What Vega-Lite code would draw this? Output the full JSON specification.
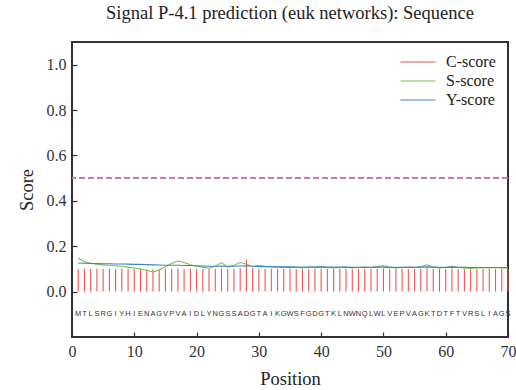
{
  "$schema": "https://vega.github.io/schema/vega-lite/v6.json",
  "width": 436,
  "height": 295,
  "autosize": "none",
  "padding": {"left": 72, "top": 42, "right": 8, "bottom": 53},
  "background": "white",
  "title": {"text": "Signal P-4.1 prediction (euk networks): Sequence", "font": "Liberation Serif", "fontSize": 18.5, "fontWeight": "normal", "color": "#222", "offset": 19},
  "config": {
    "view": {"stroke": null},
    "axis": {"grid": false, "domain": false, "ticks": true, "tickSize": 5, "tickColor": "#333", "tickWidth": 1.2, "offset": -5, "zindex": 1, "labelFont": "Liberation Serif", "labelFontSize": 16, "labelColor": "#333", "titleFont": "Liberation Serif", "titleFontSize": 18.5, "titleFontWeight": "normal", "titleColor": "#222"}
  },
  "data": {"values": [
    {"pos":1,"aa":"M","C-score":0.100,"S-score":0.148,"Y-score":0.126},
    {"pos":2,"aa":"T","C-score":0.101,"S-score":0.132,"Y-score":0.125},
    {"pos":3,"aa":"L","C-score":0.100,"S-score":0.125,"Y-score":0.124},
    {"pos":4,"aa":"S","C-score":0.102,"S-score":0.120,"Y-score":0.124},
    {"pos":5,"aa":"R","C-score":0.100,"S-score":0.118,"Y-score":0.123},
    {"pos":6,"aa":"G","C-score":0.101,"S-score":0.116,"Y-score":0.123},
    {"pos":7,"aa":"I","C-score":0.100,"S-score":0.114,"Y-score":0.122},
    {"pos":8,"aa":"Y","C-score":0.102,"S-score":0.112,"Y-score":0.122},
    {"pos":9,"aa":"H","C-score":0.100,"S-score":0.108,"Y-score":0.121},
    {"pos":10,"aa":"I","C-score":0.101,"S-score":0.104,"Y-score":0.120},
    {"pos":11,"aa":"E","C-score":0.100,"S-score":0.100,"Y-score":0.120},
    {"pos":12,"aa":"N","C-score":0.098,"S-score":0.094,"Y-score":0.119},
    {"pos":13,"aa":"A","C-score":0.099,"S-score":0.086,"Y-score":0.118},
    {"pos":14,"aa":"G","C-score":0.100,"S-score":0.095,"Y-score":0.117},
    {"pos":15,"aa":"V","C-score":0.101,"S-score":0.110,"Y-score":0.116},
    {"pos":16,"aa":"P","C-score":0.100,"S-score":0.124,"Y-score":0.116},
    {"pos":17,"aa":"V","C-score":0.102,"S-score":0.135,"Y-score":0.116},
    {"pos":18,"aa":"A","C-score":0.100,"S-score":0.128,"Y-score":0.115},
    {"pos":19,"aa":"I","C-score":0.101,"S-score":0.118,"Y-score":0.115},
    {"pos":20,"aa":"D","C-score":0.100,"S-score":0.112,"Y-score":0.114},
    {"pos":21,"aa":"L","C-score":0.100,"S-score":0.108,"Y-score":0.113},
    {"pos":22,"aa":"Y","C-score":0.101,"S-score":0.103,"Y-score":0.112},
    {"pos":23,"aa":"N","C-score":0.100,"S-score":0.112,"Y-score":0.112},
    {"pos":24,"aa":"G","C-score":0.102,"S-score":0.128,"Y-score":0.113},
    {"pos":25,"aa":"S","C-score":0.100,"S-score":0.108,"Y-score":0.112},
    {"pos":26,"aa":"S","C-score":0.101,"S-score":0.116,"Y-score":0.112},
    {"pos":27,"aa":"A","C-score":0.103,"S-score":0.128,"Y-score":0.113},
    {"pos":28,"aa":"D","C-score":0.142,"S-score":0.122,"Y-score":0.114},
    {"pos":29,"aa":"G","C-score":0.104,"S-score":0.110,"Y-score":0.112},
    {"pos":30,"aa":"T","C-score":0.101,"S-score":0.115,"Y-score":0.111},
    {"pos":31,"aa":"A","C-score":0.100,"S-score":0.112,"Y-score":0.110},
    {"pos":32,"aa":"I","C-score":0.101,"S-score":0.110,"Y-score":0.110},
    {"pos":33,"aa":"K","C-score":0.100,"S-score":0.108,"Y-score":0.109},
    {"pos":34,"aa":"G","C-score":0.100,"S-score":0.106,"Y-score":0.109},
    {"pos":35,"aa":"W","C-score":0.101,"S-score":0.108,"Y-score":0.109},
    {"pos":36,"aa":"S","C-score":0.100,"S-score":0.106,"Y-score":0.108},
    {"pos":37,"aa":"F","C-score":0.099,"S-score":0.104,"Y-score":0.108},
    {"pos":38,"aa":"G","C-score":0.100,"S-score":0.106,"Y-score":0.108},
    {"pos":39,"aa":"D","C-score":0.101,"S-score":0.108,"Y-score":0.108},
    {"pos":40,"aa":"G","C-score":0.102,"S-score":0.110,"Y-score":0.109},
    {"pos":41,"aa":"T","C-score":0.100,"S-score":0.106,"Y-score":0.108},
    {"pos":42,"aa":"K","C-score":0.100,"S-score":0.104,"Y-score":0.108},
    {"pos":43,"aa":"L","C-score":0.101,"S-score":0.106,"Y-score":0.108},
    {"pos":44,"aa":"N","C-score":0.100,"S-score":0.108,"Y-score":0.108},
    {"pos":45,"aa":"W","C-score":0.099,"S-score":0.104,"Y-score":0.107},
    {"pos":46,"aa":"N","C-score":0.100,"S-score":0.106,"Y-score":0.107},
    {"pos":47,"aa":"Q","C-score":0.101,"S-score":0.108,"Y-score":0.107},
    {"pos":48,"aa":"L","C-score":0.100,"S-score":0.106,"Y-score":0.107},
    {"pos":49,"aa":"W","C-score":0.101,"S-score":0.110,"Y-score":0.108},
    {"pos":50,"aa":"L","C-score":0.102,"S-score":0.114,"Y-score":0.108},
    {"pos":51,"aa":"V","C-score":0.100,"S-score":0.108,"Y-score":0.107},
    {"pos":52,"aa":"E","C-score":0.100,"S-score":0.104,"Y-score":0.107},
    {"pos":53,"aa":"P","C-score":0.101,"S-score":0.106,"Y-score":0.107},
    {"pos":54,"aa":"V","C-score":0.100,"S-score":0.108,"Y-score":0.107},
    {"pos":55,"aa":"A","C-score":0.100,"S-score":0.106,"Y-score":0.107},
    {"pos":56,"aa":"G","C-score":0.101,"S-score":0.110,"Y-score":0.108},
    {"pos":57,"aa":"K","C-score":0.103,"S-score":0.118,"Y-score":0.109},
    {"pos":58,"aa":"T","C-score":0.100,"S-score":0.108,"Y-score":0.108},
    {"pos":59,"aa":"D","C-score":0.100,"S-score":0.104,"Y-score":0.107},
    {"pos":60,"aa":"T","C-score":0.101,"S-score":0.106,"Y-score":0.107},
    {"pos":61,"aa":"F","C-score":0.102,"S-score":0.112,"Y-score":0.108},
    {"pos":62,"aa":"T","C-score":0.100,"S-score":0.106,"Y-score":0.107},
    {"pos":63,"aa":"V","C-score":0.100,"S-score":0.104,"Y-score":0.107},
    {"pos":64,"aa":"R","C-score":0.099,"S-score":0.102,"Y-score":0.106},
    {"pos":65,"aa":"S","C-score":0.100,"S-score":0.104,"Y-score":0.106},
    {"pos":66,"aa":"L","C-score":0.101,"S-score":0.106,"Y-score":0.106},
    {"pos":67,"aa":"I","C-score":0.100,"S-score":0.104,"Y-score":0.106},
    {"pos":68,"aa":"A","C-score":0.100,"S-score":0.106,"Y-score":0.106},
    {"pos":69,"aa":"G","C-score":0.101,"S-score":0.104,"Y-score":0.106},
    {"pos":70,"aa":"S","C-score":0.100,"S-score":0.104,"Y-score":0.106}
  ]},
  "transform": [{"fold": ["C-score", "S-score", "Y-score"], "as": ["series", "score"]}],
  "layer": [
    {
      "mark": {"type": "rect", "fill": null, "stroke": "#333", "strokeWidth": 1.5},
      "encoding": {"x": {"datum": 0}, "x2": {"datum": 70}, "y": {"datum": -0.2}, "y2": {"datum": 1.1}}
    },
    {
      "transform": [{"filter": "datum.series === 'C-score'"}],
      "mark": {"type": "rule", "strokeWidth": 1.1},
      "encoding": {
        "x": {"field": "pos", "type": "quantitative", "scale": {"domain": [0, 70], "nice": false, "zero": false},
          "axis": {"title": "Position", "values": [0,10,20,30,40,50,60,70], "labelFlush": false, "labelPadding": 6, "titlePadding": 10}},
        "y": {"field": "score", "type": "quantitative", "scale": {"domain": [-0.2, 1.1], "nice": false, "zero": false},
          "axis": {"title": "Score", "values": [0,0.2,0.4,0.6,0.8,1.0], "format": ".1f", "labelPadding": 6, "titlePadding": 10}},
        "y2": {"datum": 0},
        "color": {"field": "series", "type": "nominal", "scale": {"domain": ["C-score", "S-score", "Y-score"], "range": ["#ee5555", "#7cbf4a", "#3d85c6"]},
          "legend": {"orient": "none", "legendX": 353, "legendY": 12, "title": null, "padding": 0, "symbolType": "M-6.5,0H0.5", "symbolSize": 100, "symbolStrokeWidth": 1.2, "labelOffset": 5, "rowPadding": 3, "labelFont": "Liberation Serif", "labelFontSize": 16, "labelColor": "#222", "symbolFillColor": "transparent"}}
      }
    },
    {
      "transform": [{"filter": "datum.series !== 'C-score'"}],
      "mark": {"type": "line", "strokeWidth": 1.1},
      "encoding": {
        "x": {"field": "pos", "type": "quantitative"},
        "y": {"field": "score", "type": "quantitative"},
        "color": {"field": "series", "type": "nominal"}
      }
    },
    {
      "mark": {"type": "rule", "color": "#c47ac4", "strokeDash": [6, 3], "strokeWidth": 1},
      "encoding": {"y": {"datum": 0.5}}
    },
    {
      "transform": [{"filter": "datum.series === 'C-score'"}],
      "mark": {"type": "text", "font": "Liberation Sans", "fontSize": 7.5, "color": "#333"},
      "encoding": {
        "x": {"field": "pos", "type": "quantitative"},
        "y": {"datum": -0.1},
        "text": {"field": "aa"}
      }
    }
  ]
}
